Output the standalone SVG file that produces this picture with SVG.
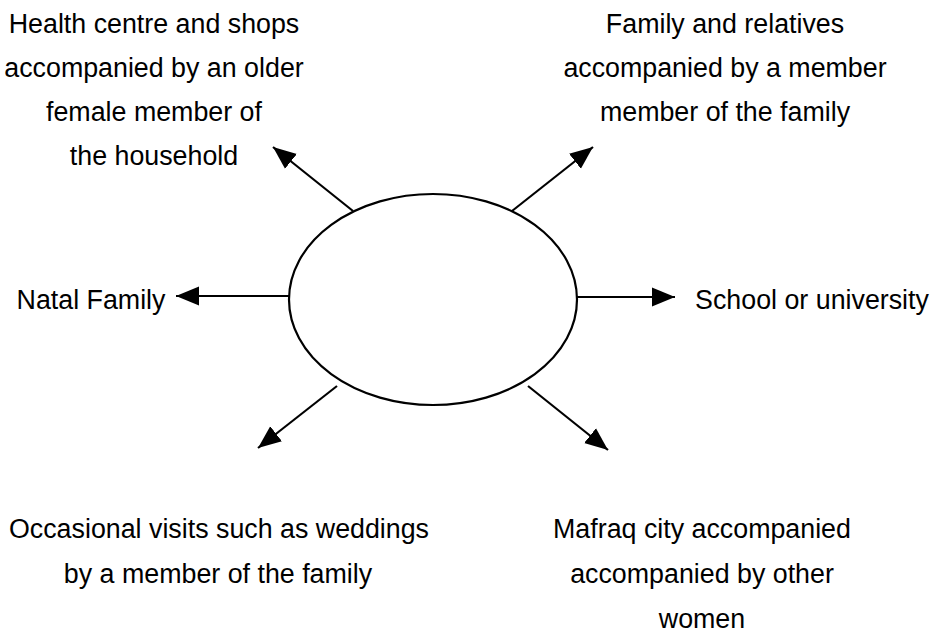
<svg xmlns="http://www.w3.org/2000/svg" width="934" height="634" viewBox="0 0 934 634">
<style>
text{font-family:"Liberation Sans",Arial,sans-serif;font-size:26.8px;fill:#000;text-anchor:middle}
.c line{stroke:#000;stroke-width:2.2;marker-end:url(#ah)}
</style>
<defs>
<marker id="ah" markerUnits="userSpaceOnUse" markerWidth="25" markerHeight="20" refX="23" refY="9.5" orient="auto" viewBox="0 0 25 19">
<path d="M0,0 L23,9.5 L0,19 Z" fill="#000"/>
</marker>
</defs>
<rect width="934" height="634" fill="#fff"/>
<g id="center"><ellipse cx="433" cy="299.5" rx="144" ry="105.5" fill="#fff" stroke="#000" stroke-width="2.2"/></g>
<g class="c" id="connectors">
<line x1="353" y1="211" x2="273" y2="147"/>
<line x1="512" y1="211" x2="593" y2="147"/>
<line x1="289" y1="296" x2="176" y2="296"/>
<line x1="577" y1="297" x2="675" y2="297"/>
<line x1="337" y1="386" x2="258" y2="448"/>
<line x1="528" y1="386" x2="608" y2="450"/>
</g>
<g id="n-health"><text x="154" y="33">Health centre and shops</text><text x="154" y="77">accompanied by an older</text><text x="154" y="121">female member of</text><text x="154" y="165">the household</text></g>
<g id="n-family"><text x="725" y="33">Family and relatives</text><text x="725" y="77">accompanied by a member</text><text x="725" y="121">member of the family</text></g>
<g id="n-natal"><text x="91" y="309">Natal Family</text></g>
<g id="n-school"><text x="812" y="309">School or university</text></g>
<g id="n-visits"><text x="219" y="538">Occasional visits such as weddings</text><text x="218" y="583">by a member of the family</text></g>
<g id="n-mafraq"><text x="702" y="538">Mafraq city accompanied</text><text x="702" y="583">accompanied by other</text><text x="702" y="628">women</text></g>
</svg>
